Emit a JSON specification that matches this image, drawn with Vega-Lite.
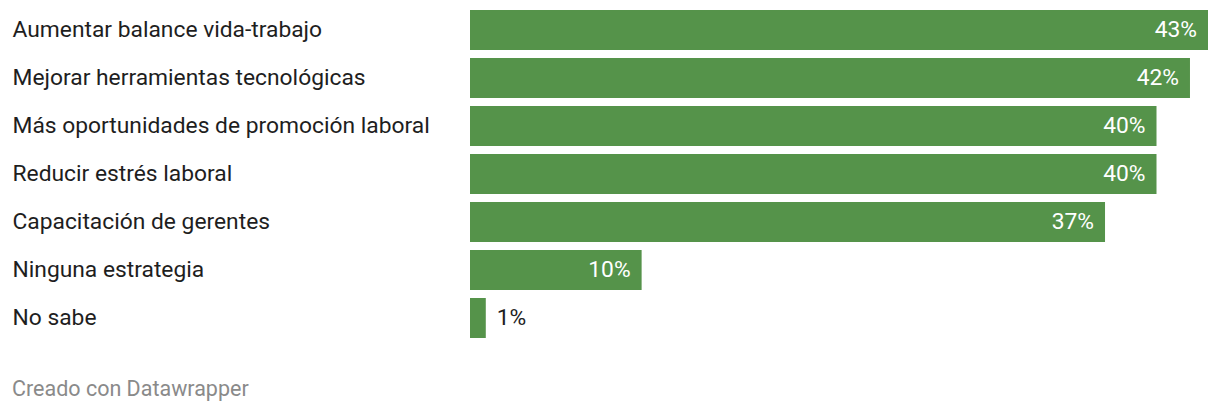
{
  "$schema": "https://vega.github.io/schema/vega-lite/v6.json",
  "autosize": {"type": "none"},
  "padding": {"left": 470, "top": 6, "right": 12, "bottom": 72},
  "width": 738,
  "height": 336,
  "background": "white",
  "config": {"view": {"stroke": null}, "font": "Roboto"},
  "title": {
    "text": "Creado con Datawrapper",
    "orient": "bottom",
    "anchor": "start",
    "frame": "bounds",
    "font": "Roboto",
    "fontSize": 21.5,
    "fontWeight": "normal",
    "color": "#8a8a8a",
    "offset": 37
  },
  "data": {
    "values": [
      {"estrategia": "Aumentar balance vida-trabajo", "valor": 0.43},
      {"estrategia": "Mejorar herramientas tecnológicas", "valor": 0.4195},
      {"estrategia": "Más oportunidades de promoción laboral", "valor": 0.40},
      {"estrategia": "Reducir estrés laboral", "valor": 0.40},
      {"estrategia": "Capacitación de gerentes", "valor": 0.37},
      {"estrategia": "Ninguna estrategia", "valor": 0.10},
      {"estrategia": "No sabe", "valor": 0.0092}
    ]
  },
  "encoding": {
    "y": {
      "field": "estrategia",
      "type": "nominal",
      "sort": null,
      "scale": {"paddingInner": 0.16667, "paddingOuter": 0.08333},
      "axis": {
        "title": null,
        "ticks": false,
        "domain": false,
        "labelAlign": "left",
        "labelPadding": 458,
        "labelFont": "Roboto",
        "labelFontSize": 22.8,
        "labelColor": "#1e1e1e",
        "labelLimit": 500
      }
    },
    "x": {
      "field": "valor",
      "type": "quantitative",
      "scale": {"domain": [0, 0.43], "nice": false},
      "axis": null
    }
  },
  "layer": [
    {"mark": {"type": "bar", "color": "#55934a"}},
    {
      "transform": [{"filter": "datum.valor >= 0.05"}],
      "mark": {"type": "text", "align": "right", "dx": -11, "font": "Roboto", "fontSize": 22.8, "color": "white", "baseline": "middle"},
      "encoding": {"text": {"field": "valor", "type": "quantitative", "format": ".0%"}}
    },
    {
      "transform": [{"filter": "datum.valor < 0.05"}],
      "mark": {"type": "text", "align": "left", "dx": 11, "font": "Roboto", "fontSize": 22.8, "color": "#1e1e1e", "baseline": "middle"},
      "encoding": {"text": {"field": "valor", "type": "quantitative", "format": ".0%"}}
    }
  ]
}
